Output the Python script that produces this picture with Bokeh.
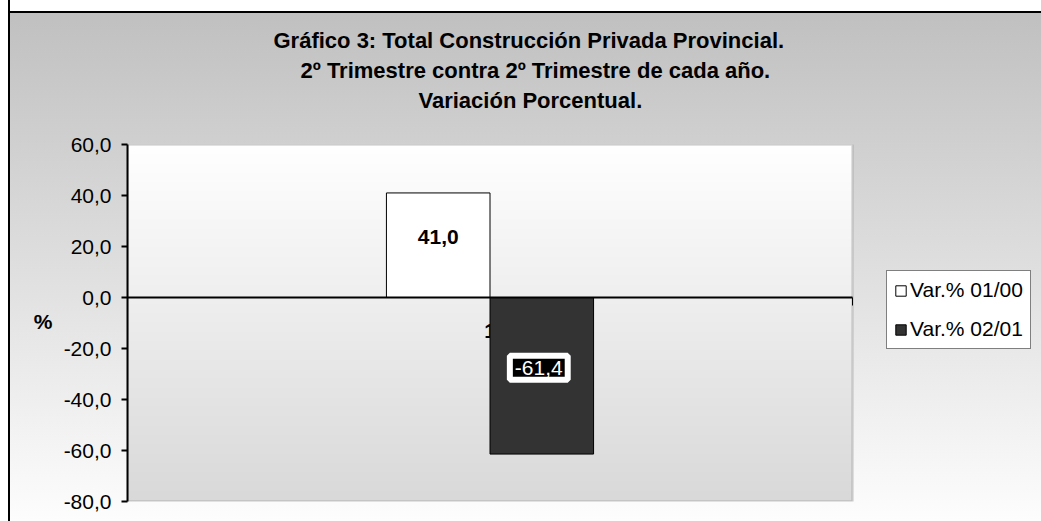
import numpy as np
from bokeh.plotting import figure
from bokeh.models import (ColumnDataSource, Range1d, LinearAxis, FixedTicker, Title,
                          Legend, LegendItem, LinearColorMapper, BoxAnnotation)
from bokeh.core.properties import value
from bokeh.embed import file_html
from bokeh.resources import INLINE

# ---------------- data ----------------
title_lines = [
    "Gráfico 3: Total Construcción Privada Provincial.",
    "2º Trimestre contra 2º Trimestre de cada año.",
    "Variación Porcentual.",
]
categories = ["1"]
series_names = ["Var.% 01/00", "Var.% 02/01"]
series_01_00 = [41.0]
series_02_01 = [-61.4]
series_colors = ["#FFFFFF", "#333333"]
y_ticks = [-80, -60, -40, -20, 0, 20, 40, 60]
y_tick_labels = ["-80,0", "-60,0", "-40,0", "-20,0", "0,0", "20,0", "40,0", "60,0"]
y_label = "%"

# ---------------- style / layout ----------------
FONT = "Liberation Sans"
Y_MIN, Y_MAX = y_ticks[0], y_ticks[-1]
GAP_WIDTH = 5.0              # Excel gap width 500%
Y_LABEL_POS = -9.3           # vertical position of the horizontal "%" axis title
TITLE_OFFSETS = [146, 173, 291]
W, H = 1041, 521
PA_LEFT, PA_RIGHT = 127, 852  # plot-area pixel extent; the frame continues to the right edge
FRAME_EXTRA = (W - PA_LEFT) / (PA_RIGHT - PA_LEFT)

def fmt(v):
    return f"{v:.1f}".replace(".", ",")

n_cat = len(categories)
series = [series_01_00, series_02_01]
n_ser = len(series)
bar_w = 1.0 / (n_ser + GAP_WIDTH)
offsets = [(i - (n_ser - 1) / 2) * bar_w for i in range(n_ser)]
X_LO, X_HI = 0.5, 0.5 + n_cat

p = figure(width=W, height=H,
           x_range=Range1d(X_LO, X_LO + n_cat * FRAME_EXTRA), y_range=Range1d(Y_MIN, Y_MAX),
           x_axis_location=None, toolbar_location=None, output_backend="svg",
           min_border_left=PA_LEFT, min_border_right=0, min_border_top=144, min_border_bottom=20,
           border_fill_color=None, background_fill_color=None, outline_line_color=None)
p.styles = {
    "background-image": "linear-gradient(to right, #fff 0px, #fff 8px, #000 8px, #000 10px, transparent 10px), "
                        "linear-gradient(to bottom, #fff 0px, #fff 11px, #000 11px, #000 13px, #c0c0c0 13px, #fdfdfd 100%)",
}
p.grid.visible = False

# plot-area gradient (white at top -> light gray at bottom)
ng = 256
grad = np.linspace(0, 1, ng).reshape(ng, 1)
pal = [f"#{v:02x}{v:02x}{v:02x}" for v in np.linspace(0xD9, 0xFF, ng).astype(int)]
mapper = LinearColorMapper(palette=pal, low=0, high=1)
p.image(image=[grad], x=X_LO, y=Y_MIN, dw=n_cat, dh=Y_MAX - Y_MIN, color_mapper=mapper, level="image")
p.add_layout(BoxAnnotation(left=X_LO, right=X_HI, bottom=Y_MIN, top=Y_MAX,
                           fill_color=None, line_color="#808080", line_width=2.5, level="underlay"))

# category label axis (drawn under the bars)
lab_axis = LinearAxis(fixed_location=0, ticker=FixedTicker(ticks=[i + 1 for i in range(n_cat)]),
                      major_label_overrides={i + 1: c for i, c in enumerate(categories)},
                      axis_line_color=None, major_tick_line_color=None, minor_tick_line_color=None,
                      major_tick_out=0, major_tick_in=0, major_label_standoff=26,
                      major_label_text_font=FONT, major_label_text_font_size="21px",
                      major_label_text_font_style="bold", major_label_text_color="black",
                      level="underlay")
p.add_layout(lab_axis, "below")

renderers = []
for i in range(n_ser):
    xs = [k + 1 + offsets[i] for k in range(n_cat)]
    src = ColumnDataSource(dict(x=xs, top=series[i], mid=[v / 2 for v in series[i]],
                                txt=[fmt(v) for v in series[i]]))
    r = p.vbar(x="x", top="top", bottom=0, width=bar_w, source=src,
               fill_color=series_colors[i], line_color="black", line_width=1)
    renderers.append((r, src))

# zero axis with boundary ticks
zero_axis = LinearAxis(fixed_location=0, bounds=(X_LO, X_HI),
                       ticker=FixedTicker(ticks=[k + 0.5 for k in range(n_cat + 1)]),
                       major_label_text_alpha=0, axis_line_color="black", axis_line_width=2,
                       major_tick_out=8, major_tick_in=0, major_tick_line_width=1,
                       minor_tick_line_color=None)
p.add_layout(zero_axis, "below")

# data labels
p.text(x="x", y="mid", text="txt", source=renderers[0][1], y_offset=-8,
       text_font=value(FONT), text_font_size="21px", text_font_style="bold",
       text_color="black", text_align="center", text_baseline="middle")
p.text(x="x", y="mid", text="txt", source=renderers[1][1], y_offset=-8, x_offset=-3,
       text_font=value(FONT), text_font_size="21px", text_font_style="normal",
       text_color="white", text_align="center", text_baseline="middle",
       background_fill_color="black", border_line_color="white", border_line_width=6,
       padding=5, border_radius=0)

# y axis
yax = p.yaxis[0]
yax.ticker = FixedTicker(ticks=y_ticks)
yax.major_label_overrides = dict(zip(y_ticks, y_tick_labels))
yax.axis_line_width = 2
yax.axis_line_color = "black"
yax.major_tick_out = 6
yax.major_tick_in = 0
yax.major_tick_line_width = 2
yax.minor_tick_line_color = None
yax.major_label_standoff = 10
yax.major_label_text_font = FONT
yax.major_label_text_font_size = "21px"
yax.major_label_text_color = "black"

# horizontal "%" axis title, as an outer left axis
pct_axis = LinearAxis(ticker=FixedTicker(ticks=[Y_LABEL_POS]),
                      major_label_overrides={Y_LABEL_POS: y_label},
                      axis_line_color=None, major_tick_line_color=None, minor_tick_line_color=None,
                      major_tick_out=0, major_tick_in=0, major_label_standoff=8,
                      major_label_text_font=FONT, major_label_text_font_size="21px",
                      major_label_text_font_style="bold", major_label_text_color="black")
p.add_layout(pct_axis, "left")

# spacer between plot area and title (closest to plot)
p.add_layout(Title(text=" ", text_font_size="1px", standoff=27, align="left"), "above")
for idx in reversed(range(len(title_lines))):
    p.add_layout(Title(text=title_lines[idx], align="left", offset=TITLE_OFFSETS[idx],
                       standoff=3,
                       text_font=FONT, text_font_size="22px", text_font_style="bold",
                       text_color="black"), "above")

legend = Legend(items=[LegendItem(label=series_names[i], renderers=[renderers[i][0]]) for i in range(n_ser)],
                location=(759, 152), orientation="vertical",
                label_text_font=FONT, label_text_font_size="21px", label_text_color="black",
                glyph_width=13, glyph_height=13, label_standoff=3, padding=7, spacing=15,
                label_height=24, margin=0,
                border_line_color="black", border_line_width=1,
                background_fill_color="white", background_fill_alpha=1.0)
p.add_layout(legend, "center")

open("out.html", "w").write(file_html(p, INLINE))
